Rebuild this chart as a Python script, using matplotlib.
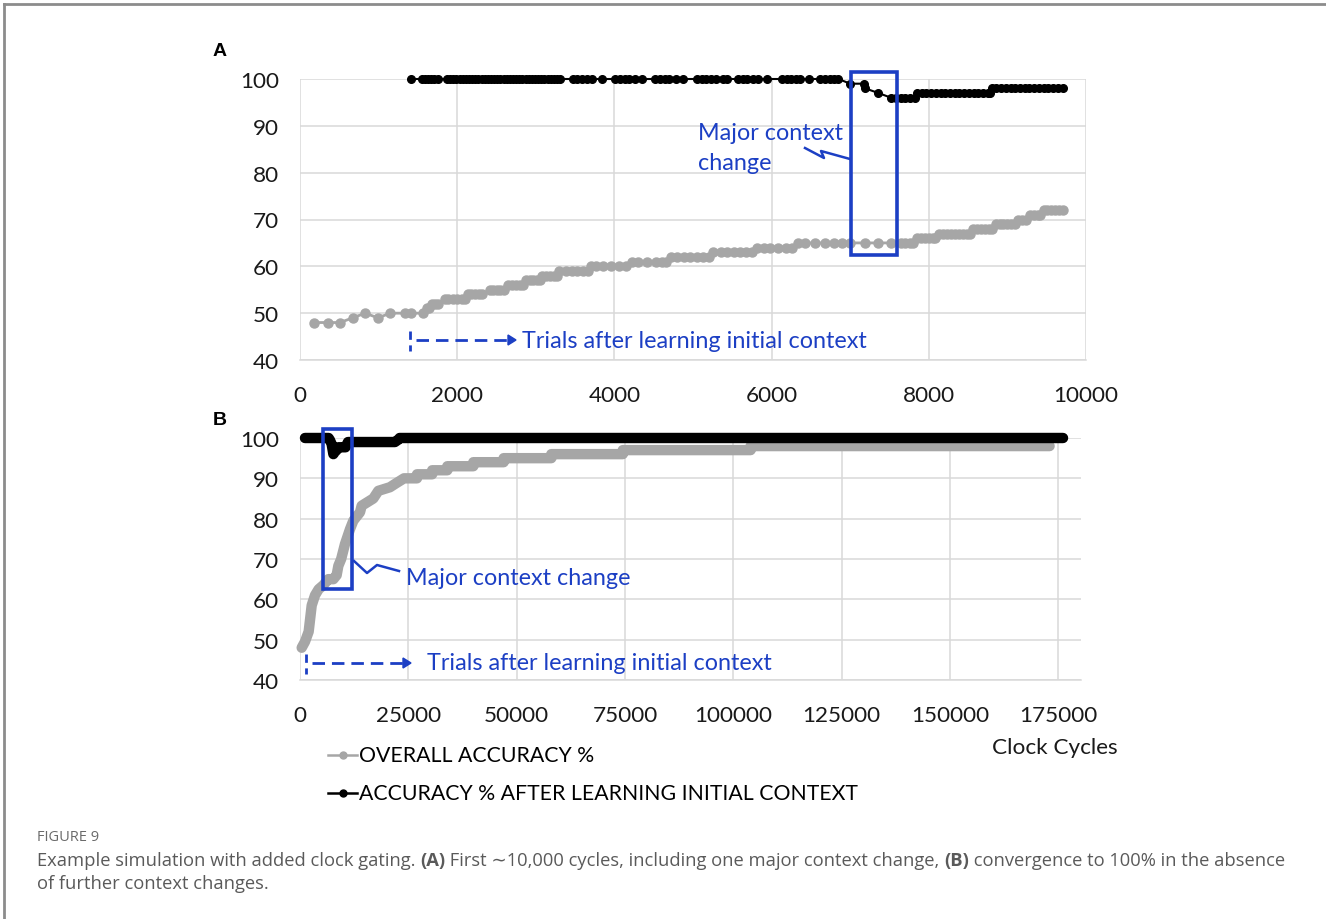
import matplotlib
matplotlib.use('Agg')
import matplotlib.pyplot as plt
from matplotlib.lines import Line2D
from matplotlib.patches import Polygon, Rectangle
from matplotlib.transforms import Affine2D

plt.rcParams['font.family'] = ['Lato', 'DejaVu Sans']

# ---------------- data ----------------
# Panel A: overall accuracy, as (level, x positions of the points at that level)
gray_a_steps = [
    (48, [180, 350, 510]),
    (49, [670]),
    (50, [830]),
    (49, [990]),
    (50, [1150, 1340, 1410, 1570]),
    (51, [1610, 1640]),
    (52, [1680, 1720, 1750]),
    (53, [1840, 1880, 1950, 2000, 2060, 2100]),
    (54, [2140, 2180, 2230, 2280, 2310]),
    (55, [2420, 2460, 2500, 2550, 2600]),
    (56, [2650, 2700, 2750, 2800, 2840]),
    (57, [2870, 2920, 2960, 3010, 3050]),
    (58, [3080, 3130, 3180, 3230, 3270]),
    (59, [3300, 3380, 3460, 3530, 3600, 3660]),
    (60, [3700, 3760, 3850, 3960, 4060, 4150]),
    (61, [4220, 4300, 4420, 4530, 4600, 4660]),
    (62, [4720, 4800, 4880, 4960, 5050, 5130, 5200]),
    (63, [5260, 5350, 5430, 5520, 5600, 5680, 5750]),
    (64, [5820, 5900, 5980, 6080, 6180, 6260]),
    (65, [6330, 6420, 6550, 6680, 6800, 6900, 7000, 7190, 7350, 7520, 7640, 7700, 7760, 7800]),
    (66, [7850, 7900, 7950, 8000, 8050, 8080]),
    (67, [8130, 8180, 8230, 8280, 8330, 8380, 8430, 8480, 8520]),
    (68, [8560, 8610, 8660, 8710, 8760, 8800]),
    (69, [8850, 8900, 8950, 9000, 9050, 9100]),
    (70, [9140, 9190, 9240]),
    (71, [9290, 9340, 9390, 9420]),
    (72, [9460, 9510, 9560, 9610, 9660, 9710]),
]
# Panel A: accuracy after learning initial context
black_a_steps = [
    (100, [1408, 1550, 1590, 1630, 1670, 1710, 1760, 1870, 1910, 1950, 1990, 2030, 2070,
           2110, 2150, 2190, 2230, 2270, 2310, 2350, 2390, 2430, 2470, 2510, 2550, 2590,
           2630, 2670, 2710, 2750, 2790, 2830, 2870, 2910, 2950, 2990, 3030, 3070, 3110,
           3150, 3190, 3230, 3270, 3310, 3470, 3530, 3590, 3650, 3710, 3840, 4010, 4070,
           4130, 4190, 4260, 4350, 4520, 4580, 4640, 4700, 4790, 4870, 5050, 5110, 5170,
           5230, 5290, 5380, 5430, 5570, 5630, 5690, 5760, 5830, 5940, 6130, 6190, 6250,
           6310, 6360, 6470, 6620, 6680, 6740, 6800, 6850]),
    (99, [7000, 7170]),
    (98, [7190]),
    (97, [7360]),
    (96, [7520, 7580, 7640, 7700, 7760, 7820]),
    (97, [7850, 7910, 7970, 8030, 8090, 8150, 8210, 8270, 8330, 8390, 8450, 8510, 8570,
          8630, 8690, 8750, 8780]),
    (98, [8800, 8860, 8920, 8980, 9040, 9100, 9160, 9220, 9280, 9340, 9400, 9460, 9520,
          9580, 9640, 9710]),
]

# Panel B
gray_b_x = [390, 1150, 2000, 2700, 3460, 4300, 5380, 6540, 7700, 8460, 8850, 9500, 10380,
            11540, 12310, 13850, 14230, 16920, 18080, 20770, 21920, 24000, 27000, 27000,
            30500, 30500, 34000, 34000, 40000, 40000, 47000, 47000, 58000, 58000, 74500,
            74500, 104000, 104000, 173000]
gray_b_y = [48, 49.5, 52, 58.5, 61, 62.5, 63.5, 65, 65, 66, 68.3, 70, 73.7,
            77.4, 79.5, 81.6, 83.2, 85, 86.9, 87.8, 88.6, 90, 90, 91,
            91, 92, 92, 93, 93, 94, 94, 95, 95, 96, 96,
            97, 97, 98, 98]
black_b_x = [1150, 3000, 5500, 6600, 6900, 7300, 7700, 8000, 8460, 8850, 9500, 10500,
             11080, 11800, 16000, 21900, 22700, 23000, 60000, 120000, 176100]
black_b_y = [100, 100, 100, 100, 99.5, 98.5, 96, 96.5, 97, 97.7, 97.7, 97.7,
             99, 99, 99, 99, 99.6, 100, 100, 100, 100]

a_xticks = [0, 2000, 4000, 6000, 8000, 10000]
b_xticks = [0, 25000, 50000, 75000, 100000, 125000, 150000, 175000]
yticks = [40, 50, 60, 70, 80, 90, 100]

legend_labels = ['OVERALL ACCURACY %', 'ACCURACY % AFTER LEARNING INITIAL CONTEXT']
annot_text = 'Major context change'
trials_text = 'Trials after learning initial context'


def flatten(steps):
    xs, ys = [], []
    for lvl, pts in steps:
        for p in pts:
            xs.append(p)
            ys.append(lvl)
    return xs, ys


gray_a_x, gray_a_y = flatten(gray_a_steps)
black_a_x, black_a_y = flatten(black_a_steps)

# ---------------- figure ----------------
W, H = 1326, 920
fig = plt.figure(figsize=(W / 100, H / 100), dpi=100)
pix = Affine2D().scale(1 / W, -1 / H).translate(0, 1) + fig.transFigure

GRAY = '#a6a6a6'
BLUE = '#1c3fc4'
GRID = '#d9d9d9'
TICKC = '#1a1a1a'


def style_axes(ax, xticks, xlim):
    ax.set_xlim(*xlim)
    ax.set_ylim(40, 100)
    ax.set_xticks(xticks)
    ax.set_yticks(yticks)
    ax.grid(True, color=GRID, lw=1.1)
    ax.set_axisbelow(True)
    for s in ['top', 'right', 'left']:
        ax.spines[s].set_visible(False)
    ax.spines['bottom'].set_color(GRID)
    ax.spines['bottom'].set_linewidth(1.1)
    ax.tick_params(length=0, labelsize=16.2, colors=TICKC)
    ax.tick_params(axis='x', pad=18)
    ax.tick_params(axis='y', pad=15)


# Panel A
axA = fig.add_axes([300 / W, 1 - 361 / H, 786 / W, 281 / H])
style_axes(axA, a_xticks, (0, 10000))
axA.plot(gray_a_x, gray_a_y, color=GRAY, lw=2, marker='o', ms=6.5, mec=GRAY, mfc=GRAY,
         zorder=3, clip_on=False)
axA.plot(black_a_x, black_a_y, color='black', lw=1.5, marker='o', ms=5.5, zorder=4,
         clip_on=False)
axA.add_patch(Rectangle((7010, 62.4), 585, 39.1, fill=False, ec=BLUE, lw=2.6,
                        clip_on=False, zorder=5))

# Panel B
axB = fig.add_axes([300 / W, 1 - 681 / H, 781 / W, 242 / H])
style_axes(axB, b_xticks, (0, 180250))
axB.plot(gray_b_x, gray_b_y, color=GRAY, lw=7.5, solid_capstyle='round',
         solid_joinstyle='round', zorder=3, clip_on=False)
axB.plot(black_b_x, black_b_y, color='black', lw=7.5, solid_capstyle='round',
         solid_joinstyle='round', zorder=4, clip_on=False)
axB.add_patch(Rectangle((5310, 62.5), 6690, 39.7, fill=False, ec=BLUE, lw=2.6,
                        clip_on=False, zorder=5))

# panel letters
fig.text(220 / W, 1 - 52 / H, 'A', fontsize=14, fontweight='bold', family='Liberation Sans',
         ha='center', va='center')
fig.text(220 / W, 1 - 421 / H, 'B', fontsize=14, fontweight='bold', family='Liberation Sans',
         ha='center', va='center')

# annotations A
fig.text(698 / W, 1 - 133 / H, 'Major context', color=BLUE, fontsize=16.8, ha='left',
         va='center')
fig.text(698 / W, 1 - 163 / H, 'change', color=BLUE, fontsize=16.8, ha='left', va='center')
fig.add_artist(Line2D([805, 824, 821, 850], [149, 159, 152, 160], transform=pix, color=BLUE,
                      lw=1.8))


def trials(x0, y0, x1, xt):
    fig.add_artist(Line2D([x0, x0], [y0 - 9, y0 + 11], transform=pix, color=BLUE, lw=2,
                          ls=(0, (3, 2))))
    fig.add_artist(Line2D([x0 + 6, x1], [y0, y0], transform=pix, color=BLUE, lw=2,
                          ls=(0, (4.5, 2.5))))
    fig.add_artist(Polygon([[x1, y0 - 5], [x1 + 8, y0], [x1, y0 + 5]], closed=True,
                           transform=pix, color=BLUE))
    fig.text(xt / W, 1 - y0 / H, trials_text, color=BLUE, fontsize=16.8, ha='left',
             va='center')


trials(410, 341, 508, 522)

# annotations B
fig.text(406 / W, 1 - 579 / H, annot_text, color=BLUE, fontsize=16.8, ha='left', va='center')
fig.add_artist(Line2D([354, 367, 377, 399], [562, 574, 566, 572], transform=pix, color=BLUE,
                      lw=1.8))
trials(306, 664, 403, 427)

# legend
leg_y = [756, 794]
leg_c = [GRAY, 'black']
for yy, cc, lab in zip(leg_y, leg_c, legend_labels):
    fig.add_artist(Line2D([328, 357], [yy, yy], transform=pix, color=cc, lw=1.8))
    fig.add_artist(Line2D([342.5], [yy], transform=pix, color=cc, marker='o', ms=5))
    fig.text(359 / W, 1 - yy / H, lab, fontsize=15.3, ha='left', va='center', color='black')

fig.text(992 / W, 1 - 748 / H, 'Clock Cycles', fontsize=16.2, ha='left', va='center',
         color=TICKC)

# border
fig.add_artist(Line2D([4, 1326], [5, 5], transform=pix, color='#8c8c8c', lw=2))
fig.add_artist(Line2D([4, 4], [5, 920], transform=pix, color='#8c8c8c', lw=2))

# caption
CAPF = ['Open Sans', 'DejaVu Sans']
fig.text(37 / W, 1 - 838 / H, 'FIGURE 9', fontsize=10.5, color='#6a6a6a', family=CAPF,
         ha='left', va='center')

renderer = fig.canvas.get_renderer()


def runs(x, y, parts):
    for txt, wt in parts:
        t = fig.text(x / W, 1 - y / H, txt, fontsize=13.2, color='#5a5a5a', family=CAPF,
                     fontweight=wt, ha='left', va='center')
        bb = t.get_window_extent(renderer)
        x += bb.width


runs(37, 861, [('Example simulation with added clock gating. ', 'normal'), ('(A)', 'bold'),
               (' First \u223c10,000 cycles, including one major context change, ', 'normal'),
               ('(B)', 'bold'), (' convergence to 100% in the absence', 'normal')])
runs(37, 884, [('of further context changes.', 'normal')])

fig.savefig('out.png', dpi=100)
